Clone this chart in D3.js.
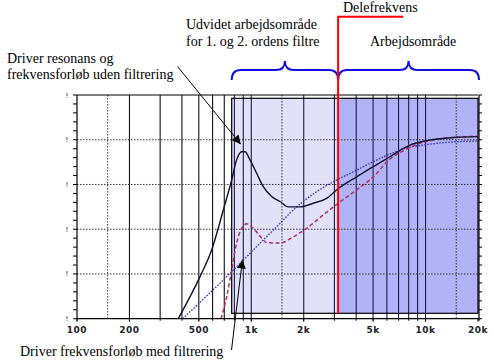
<!DOCTYPE html>
<html><head><meta charset="utf-8">
<script src="https://cdn.jsdelivr.net/npm/d3@7"></script>
<style>html,body{margin:0;padding:0;background:#fff;}svg{display:block;}</style>
</head><body>
<svg id="chart" width="494" height="363"></svg>
<script>
// ---- data ----
const xTickValues = [100, 200, 500, 1000, 2000, 5000, 10000, 20000];
const xTickLabels = ["100", "200", "500", "1k", "2k", "5k", "10k", "20k"];
const gridSolid = [200, 300, 400, 500, 600, 700, 800, 900, 1000, 2000, 3000, 4000, 5000, 6000, 7000, 8000, 9000, 10000];
const gridDotted = [150, 1500, 15000];
const yMajor = [0, -10, -20, -30, -40, -50];
const yTickLabels = ["!", "!", "!", "!", "!", "!"];
const yMinor = [-2,-4,-6,-8,-12,-14,-16,-18,-22,-24,-26,-28,-32,-34,-36,-38,-42,-44,-46,-48];

const crossover = 3150;            // Delefrekvens
const extendedStart = 772;         // start of "Udvidet arbejdsområde"
const rangeEnd = 20000;

// Driver without filtering (solid)
const unfilteredFreq = [381, 508, 593, 691, 772, 824, 881, 920, 983, 1074, 1172, 1309, 1461, 1631, 1903, 2268, 2707, 3155, 4024, 5010, 6250, 8140, 10150, 14400, 20000];
const unfilteredDb   = [-50, -40.6, -34.6, -25.7, -19.0, -14.5, -12.7, -12.7, -14.5, -17.5, -20.5, -22.7, -23.8, -25.0, -25.0, -24.2, -23.1, -20.9, -18.3, -16.0, -13.8, -11.2, -10.2, -9.5, -9.3];
// Driver with filtering (dashed)
const filteredFreq = [670, 723, 772, 824, 881, 941, 1027, 1148, 1226, 1461, 1742, 2080, 2589, 3155, 4024, 5010, 6250, 7450, 9290, 11580, 14400, 20000];
const filteredDb   = [-50, -45.1, -39.1, -33.1, -29.8, -28.8, -29.8, -32.0, -33.0, -33.1, -31.7, -29.8, -26.8, -24.2, -21.2, -18.3, -14.3, -12.5, -10.8, -9.9, -9.5, -9.2];
// Dotted response
const dottedFreq = [404, 772, 1172, 1461, 1667, 1988, 2373, 2954, 4024, 5010, 6250, 7450, 9290, 14400, 20000];
const dottedDb   = [-50, -39.5, -32.4, -28.7, -26.4, -23.8, -21.6, -19.4, -16.8, -14.9, -13.2, -12.0, -11.3, -10.5, -10.3];

// ---- layout ----
const L = 77, R = 478, T = 95, B = 318.7;
const boxTop = 98.3, boxBottom = 313.3;
const svg = d3.select("#chart");
const x = d3.scaleLog().domain([100, 20000]).range([L, R]);
const y = d3.scaleLinear().domain([-50, 0]).range([B, T]);

// shaded regions
svg.append("rect").attr("x", x(extendedStart)).attr("y", boxTop)
  .attr("width", x(crossover) - x(extendedStart)).attr("height", boxBottom - boxTop)
  .attr("fill", "#e1e1fa");
svg.append("rect").attr("x", x(crossover)).attr("y", boxTop)
  .attr("width", x(rangeEnd) - x(crossover)).attr("height", boxBottom - boxTop)
  .attr("fill", "#b2b2f7");

// vertical solid grid
svg.append("g").selectAll("line").data(gridSolid).join("line")
  .attr("x1", d => x(d)).attr("x2", d => x(d)).attr("y1", T).attr("y2", B + 2)
  .attr("stroke", d => d >= extendedStart ? "#1c1c4a" : "#111").attr("stroke-width", 1.1);
// vertical dotted grid
svg.append("g").selectAll("line").data(gridDotted).join("line")
  .attr("x1", d => x(d)).attr("x2", d => x(d)).attr("y1", T).attr("y2", B)
  .attr("stroke", "#333").attr("stroke-width", 1).attr("stroke-dasharray", "1.5,1.5");
// horizontal dotted grid
svg.append("g").selectAll("line").data(yMajor.slice(1, -1)).join("line")
  .attr("x1", L).attr("x2", R).attr("y1", d => y(d)).attr("y2", d => y(d))
  .attr("stroke", "#333").attr("stroke-width", 1).attr("stroke-dasharray", "1.5,1.5");

// box border
svg.append("rect").attr("x", x(extendedStart)).attr("y", boxTop)
  .attr("width", x(rangeEnd) - x(extendedStart)).attr("height", boxBottom - boxTop)
  .attr("fill", "none").attr("stroke", "#000").attr("stroke-width", 1.2);

// curves
svg.append("clipPath").attr("id", "clip").append("rect")
  .attr("x", L).attr("y", T).attr("width", R - L).attr("height", B - T);
const line = d3.line().x(d => x(d[0])).y(d => y(d[1])).curve(d3.curveMonotoneX);
const g = svg.append("g").attr("clip-path", "url(#clip)");
g.append("path").attr("d", line(d3.zip(dottedFreq, dottedDb)))
  .attr("fill", "none").attr("stroke", "#3434a8").attr("stroke-width", 1.3).attr("stroke-dasharray", "1.6,1.4");
g.append("path").attr("d", line(d3.zip(filteredFreq, filteredDb)))
  .attr("fill", "none").attr("stroke", "#ad3060").attr("stroke-width", 1.5).attr("stroke-dasharray", "4,2.5");
g.append("path").attr("d", line(d3.zip(unfilteredFreq, unfilteredDb)))
  .attr("fill", "none").attr("stroke", "#121230").attr("stroke-width", 1.4);

// axes frame
svg.append("line").attr("x1", L).attr("x2", R).attr("y1", T).attr("y2", T).attr("stroke", "#000").attr("stroke-width", 1.2);
svg.append("line").attr("x1", L).attr("x2", R + 1).attr("y1", B).attr("y2", B).attr("stroke", "#000").attr("stroke-width", 1.2);
svg.append("line").attr("x1", L).attr("x2", L).attr("y1", T).attr("y2", B + 2).attr("stroke", "#000").attr("stroke-width", 1.2);
svg.append("line").attr("x1", R + 1).attr("x2", R + 1).attr("y1", T).attr("y2", B + 2).attr("stroke", "#000").attr("stroke-width", 1.2);

// y ticks
const allY = yMajor.concat(yMinor);
svg.append("g").selectAll("line").data(allY).join("line")
  .attr("x1", L - 4).attr("x2", L).attr("y1", d => y(d)).attr("y2", d => y(d))
  .attr("stroke", "#000").attr("stroke-width", 1);
svg.append("g").selectAll("line").data(allY).join("line")
  .attr("x1", R + 1).attr("x2", R + 4).attr("y1", d => y(d)).attr("y2", d => y(d))
  .attr("stroke", "#000").attr("stroke-width", 1);
svg.append("g").selectAll("text").data(yMajor).join("text")
  .attr("x", 67).attr("y", d => y(d) + 2.5).attr("text-anchor", "middle")
  .attr("font-family", "DejaVu Sans").attr("font-size", 7).attr("fill", "#000")
  .text((d, i) => yTickLabels[i]);

// x ticks + labels
svg.append("g").selectAll("line").data(xTickValues).join("line")
  .attr("x1", d => x(d)).attr("x2", d => x(d)).attr("y1", B).attr("y2", B + 3)
  .attr("stroke", "#000").attr("stroke-width", 1);
svg.append("g").selectAll("text").data(xTickValues).join("text")
  .attr("x", d => x(d)).attr("y", 332.5).attr("text-anchor", "middle")
  .attr("font-family", "DejaVu Sans").attr("font-weight", "bold").attr("font-size", 9)
  .attr("letter-spacing", 0.5).attr("fill", "#222")
  .text((d, i) => xTickLabels[i]);

// braces
function brace(a, b) {
  const m = (a + b) / 2;
  return `M${a},80 Q${a},70 ${a + 9},70 L${m - 9},70 Q${m},70 ${m},61 Q${m},70 ${m + 9},70 L${b - 9},70 Q${b},70 ${b},80`;
}
svg.append("path").attr("d", brace(x(extendedStart), x(crossover))).attr("fill", "none").attr("stroke", "#1010e0").attr("stroke-width", 2);
svg.append("path").attr("d", brace(x(crossover), x(rangeEnd) + 1)).attr("fill", "none").attr("stroke", "#1010e0").attr("stroke-width", 2);

// crossover red line
svg.append("path").attr("d", `M${x(crossover)},${boxBottom} V16.7 H403.3`)
  .attr("fill", "none").attr("stroke", "#ff0000").attr("stroke-width", 2);

// arrows
svg.append("defs").append("marker").attr("id", "ah").attr("viewBox", "0 0 10 10")
  .attr("refX", 10).attr("refY", 5).attr("markerWidth", 9).attr("markerHeight", 9)
  .attr("markerUnits", "userSpaceOnUse").attr("orient", "auto")
  .append("path").attr("d", "M0,0 L10,5 L0,10 Z").attr("fill", "#000");
svg.append("line").attr("x1", 177.7).attr("y1", 66.7).attr("x2", x(870)).attr("y2", y(-11))
  .attr("stroke", "#000").attr("stroke-width", 1).attr("marker-end", "url(#ah)");
svg.append("line").attr("x1", 231.5).attr("y1", 350).attr("x2", x(890)).attr("y2", y(-36.8))
  .attr("stroke", "#000").attr("stroke-width", 1).attr("marker-end", "url(#ah)");

// texts
const texts = [
  ["Driver resonans og", 7, 63],
  ["frekvensforløb uden filtrering", 7, 79],
  ["Udvidet arbejdsområde", 186, 29],
  ["for 1. og 2. ordens filtre", 186, 45.5],
  ["Delefrekvens", 343, 12],
  ["Arbejdsområde", 370, 45.5],
  ["Driver frekvensforløb med filtrering", 20, 356]
];
svg.append("g").selectAll("text").data(texts).join("text")
  .attr("x", d => d[1]).attr("y", d => d[2])
  .attr("font-family", "Liberation Serif").attr("font-size", 14).attr("fill", "#000")
  .text(d => d[0]);
</script>
</body></html>
